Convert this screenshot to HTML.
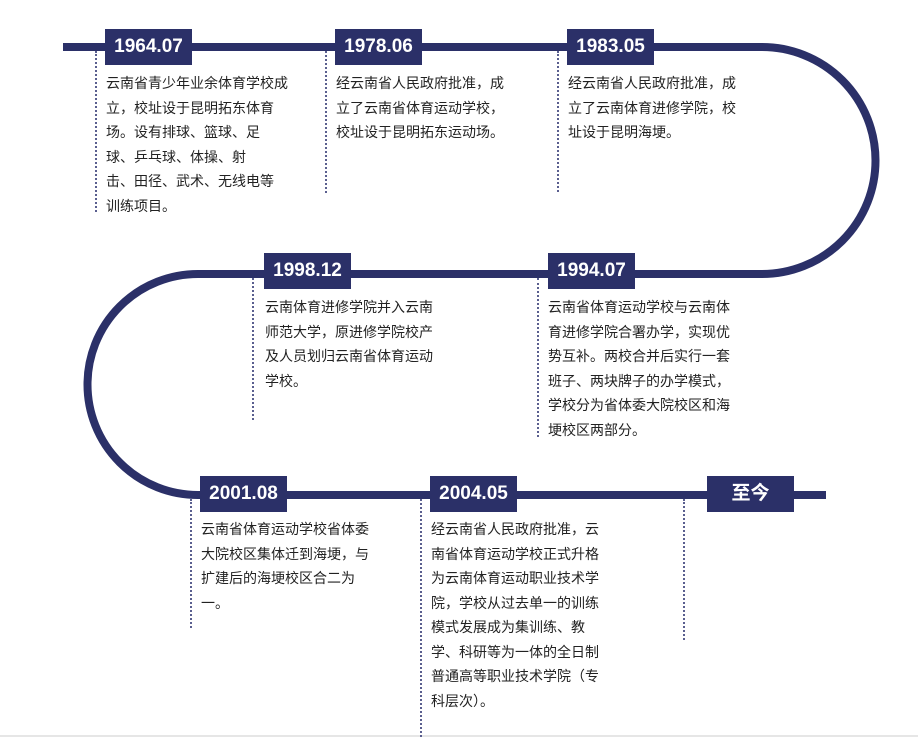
<html><head><style>
body{margin:0;width:918px;height:737px;background:#fff;position:relative;overflow:hidden;font-family:"Liberation Sans","Noto Sans CJK SC",sans-serif}
.b{position:absolute;background:#2b3068;color:#fff;font-size:19px;font-weight:bold;text-align:center;height:36px;line-height:36px;width:87px}
.d{position:absolute;border-left:2px dotted #5a5f8f;width:0}
.t{position:absolute;font-size:14px;line-height:24.5px;color:#222;white-space:nowrap}
</style></head><body>
<svg width="918" height="737" style="position:absolute;left:0;top:0">
<path d="M63 47 H762 A113.5 113.5 0 0 1 762 274 H198 A110.5 110.5 0 0 0 198 495 H826" fill="none" stroke="#2b3068" stroke-width="8"/>
<line x1="0" y1="736" x2="918" y2="736" stroke="#e6e6e6" stroke-width="2"/>
</svg>
<div class="d" style="left:95px;top:51px;height:161px"></div>
<div class="d" style="left:325px;top:51px;height:142px"></div>
<div class="d" style="left:557px;top:51px;height:141px"></div>
<div class="d" style="left:252px;top:278px;height:142px"></div>
<div class="d" style="left:537px;top:278px;height:159px"></div>
<div class="d" style="left:190px;top:499px;height:129px"></div>
<div class="d" style="left:420px;top:499px;height:238px"></div>
<div class="d" style="left:683px;top:499px;height:141px"></div>
<div class="b" style="left:105px;top:29px">1964.07</div>
<div class="b" style="left:335px;top:29px">1978.06</div>
<div class="b" style="left:567px;top:29px">1983.05</div>
<div class="b" style="left:264px;top:253px">1998.12</div>
<div class="b" style="left:548px;top:253px">1994.07</div>
<div class="b" style="left:200px;top:476px">2001.08</div>
<div class="b" style="left:430px;top:476px">2004.05</div>
<div class="b" style="left:707px;top:476px">至今</div>
<div class="t" style="left:106px;top:71px">云南省青少年业余体育学校成<br>立，校址设于昆明拓东体育<br>场。设有排球、篮球、足<br>球、乒乓球、体操、射<br>击、田径、武术、无线电等<br>训练项目。</div>
<div class="t" style="left:336px;top:71px">经云南省人民政府批准，成<br>立了云南省体育运动学校，<br>校址设于昆明拓东运动场。</div>
<div class="t" style="left:568px;top:71px">经云南省人民政府批准，成<br>立了云南体育进修学院，校<br>址设于昆明海埂。</div>
<div class="t" style="left:265px;top:295px">云南体育进修学院并入云南<br>师范大学，原进修学院校产<br>及人员划归云南省体育运动<br>学校。</div>
<div class="t" style="left:548px;top:295px">云南省体育运动学校与云南体<br>育进修学院合署办学，实现优<br>势互补。两校合并后实行一套<br>班子、两块牌子的办学模式，<br>学校分为省体委大院校区和海<br>埂校区两部分。</div>
<div class="t" style="left:201px;top:517px">云南省体育运动学校省体委<br>大院校区集体迁到海埂，与<br>扩建后的海埂校区合二为<br>一。</div>
<div class="t" style="left:431px;top:517px">经云南省人民政府批准，云<br>南省体育运动学校正式升格<br>为云南体育运动职业技术学<br>院，学校从过去单一的训练<br>模式发展成为集训练、教<br>学、科研等为一体的全日制<br>普通高等职业技术学院（专<br>科层次）。</div>
</body></html>
